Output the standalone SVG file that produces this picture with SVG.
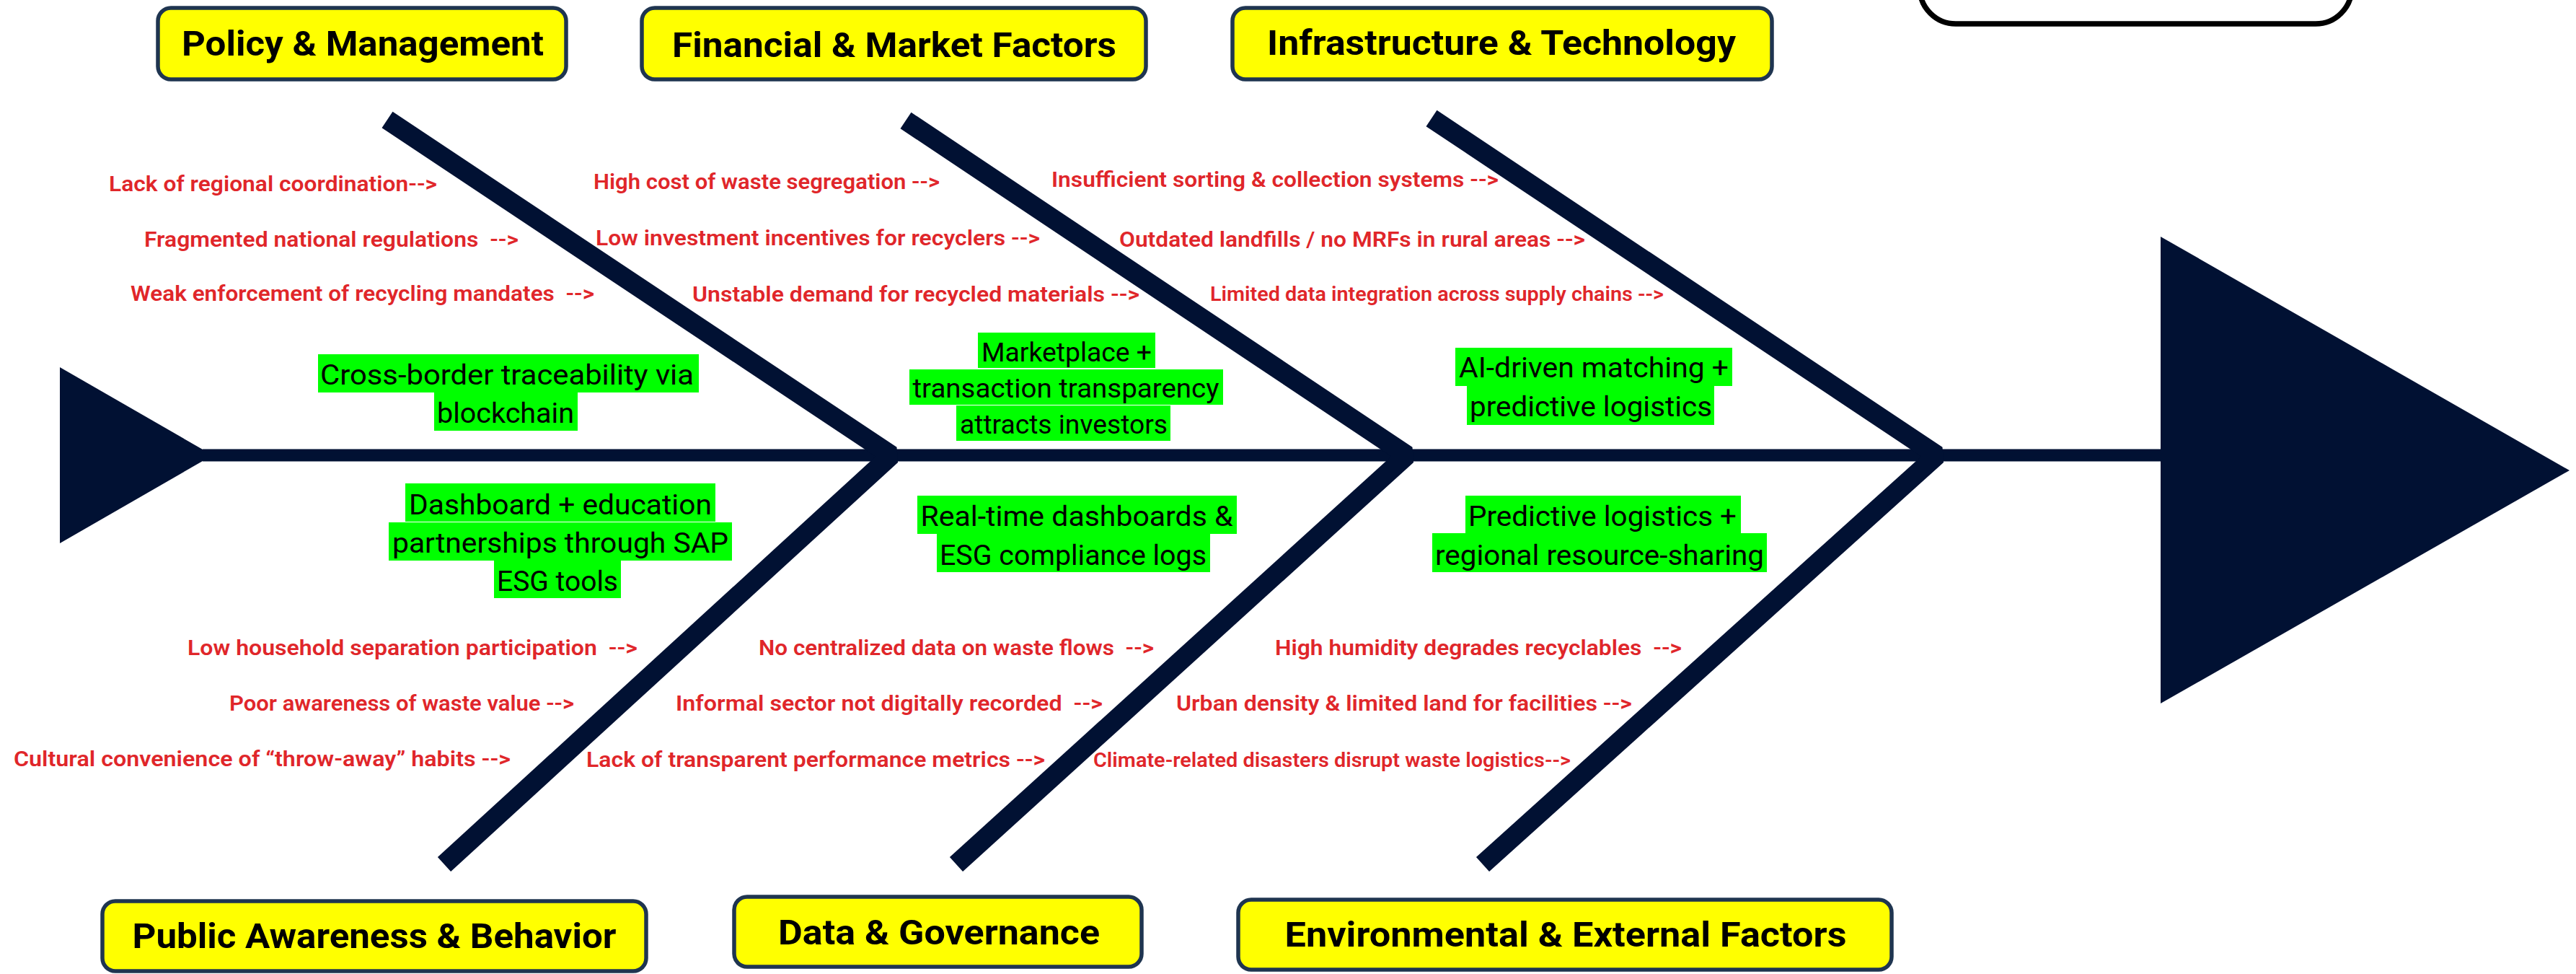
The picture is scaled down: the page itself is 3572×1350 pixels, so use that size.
<svg xmlns="http://www.w3.org/2000/svg" width="3572" height="1350" viewBox="0 0 3572 1350">
<style>
.cat rect{fill:#ffff00;stroke:#1f3550;stroke-width:5.5}
.cat text{font-family:Roboto,"Liberation Sans",sans-serif;font-weight:700;font-size:48px;fill:#000;text-anchor:middle}
.cause{font-family:Roboto,"Liberation Sans",sans-serif;font-weight:600;font-size:29px;fill:#e0262a}
.sol rect{fill:#00ff00}
.sol text{font-family:Roboto,"Liberation Sans",sans-serif;font-weight:400;font-size:38px;fill:#000;text-anchor:middle}
.bone{fill:none;stroke:#011133;stroke-width:27;stroke-linejoin:bevel;stroke-linecap:butt}
.fish{fill:#011133}
</style>
<rect width="3572" height="1350" fill="#ffffff"/>

<g id="connectors">
  <polygon class="fish" points="83,509 295,631 83,753"/>
  <line x1="281" y1="631" x2="3000" y2="631" stroke="#011133" stroke-width="17"/>
  <polyline class="bone" points="537,166 1236,631 616,1198"/>
  <polyline class="bone" points="1256,167 1951,631 1326,1198"/>
  <polyline class="bone" points="1985,164 2686,631 2056,1198"/>
</g>

<g id="head">
  <polygon class="fish" points="2996,328 3563,652 2996,975"/>
</g>

<g id="result-box">
  <rect x="2662" y="-100" width="599" height="133" rx="50" ry="50" fill="#ffffff" stroke="#000000" stroke-width="7.5"/>
</g>

<g id="cat-policy" class="cat">
  <rect x="219" y="11" width="566" height="99" rx="18"/>
  <text x="503" y="77" textLength="502" lengthAdjust="spacingAndGlyphs">Policy &amp; Management</text>
</g>
<g id="cat-financial" class="cat">
  <rect x="890" y="11" width="699" height="99" rx="18"/>
  <text x="1240" y="79" textLength="616" lengthAdjust="spacingAndGlyphs">Financial &amp; Market Factors</text>
</g>
<g id="cat-infra" class="cat">
  <rect x="1709" y="11" width="748" height="99" rx="18"/>
  <text x="2082" y="76" textLength="650" lengthAdjust="spacingAndGlyphs">Infrastructure &amp; Technology</text>
</g>
<g id="cat-public" class="cat">
  <rect x="142" y="1249" width="754" height="97" rx="18"/>
  <text x="519" y="1314" textLength="671" lengthAdjust="spacingAndGlyphs">Public Awareness &amp; Behavior</text>
</g>
<g id="cat-data" class="cat">
  <rect x="1018" y="1243" width="565" height="97" rx="18"/>
  <text x="1302" y="1309" textLength="446" lengthAdjust="spacingAndGlyphs">Data &amp; Governance</text>
</g>
<g id="cat-env" class="cat">
  <rect x="1717" y="1247" width="906" height="97" rx="18"/>
  <text x="2171" y="1312" textLength="779" lengthAdjust="spacingAndGlyphs">Environmental &amp; External Factors</text>
</g>

<g id="causes-policy" class="cause">
  <text x="151" y="265" textLength="455" lengthAdjust="spacingAndGlyphs">Lack of regional coordination--&gt;</text>
  <text x="200" y="342" textLength="519" lengthAdjust="spacingAndGlyphs" xml:space="preserve">Fragmented national regulations  --&gt;</text>
  <text x="181" y="417" textLength="643" lengthAdjust="spacingAndGlyphs" xml:space="preserve">Weak enforcement of recycling mandates  --&gt;</text>
</g>
<g id="causes-financial" class="cause">
  <text x="823" y="262" textLength="480" lengthAdjust="spacingAndGlyphs">High cost of waste segregation --&gt;</text>
  <text x="826" y="340" textLength="616" lengthAdjust="spacingAndGlyphs">Low investment incentives for recyclers --&gt;</text>
  <text x="960" y="418" textLength="620" lengthAdjust="spacingAndGlyphs">Unstable demand for recycled materials --&gt;</text>
</g>
<g id="causes-infra" class="cause">
  <text x="1458" y="259" textLength="620" lengthAdjust="spacingAndGlyphs">Insufficient sorting &amp; collection systems --&gt;</text>
  <text x="1552" y="342" textLength="646" lengthAdjust="spacingAndGlyphs">Outdated landfills / no MRFs in rural areas --&gt;</text>
  <text x="1678" y="417" textLength="629" lengthAdjust="spacingAndGlyphs" style="font-size:27px">Limited data integration across supply chains --&gt;</text>
</g>
<g id="causes-public" class="cause">
  <text x="260" y="908" textLength="624" lengthAdjust="spacingAndGlyphs" xml:space="preserve">Low household separation participation  --&gt;</text>
  <text x="318" y="985" textLength="478" lengthAdjust="spacingAndGlyphs">Poor awareness of waste value --&gt;</text>
  <text x="19" y="1062" textLength="689" lengthAdjust="spacingAndGlyphs">Cultural convenience of “throw-away” habits --&gt;</text>
</g>
<g id="causes-data" class="cause">
  <text x="1052" y="908" textLength="548" lengthAdjust="spacingAndGlyphs" xml:space="preserve">No centralized data on waste flows  --&gt;</text>
  <text x="937" y="985" textLength="592" lengthAdjust="spacingAndGlyphs" xml:space="preserve">Informal sector not digitally recorded  --&gt;</text>
  <text x="813" y="1063" textLength="636" lengthAdjust="spacingAndGlyphs">Lack of transparent performance metrics --&gt;</text>
</g>
<g id="causes-env" class="cause">
  <text x="1768" y="908" textLength="564" lengthAdjust="spacingAndGlyphs" xml:space="preserve">High humidity degrades recyclables  --&gt;</text>
  <text x="1631" y="985" textLength="632" lengthAdjust="spacingAndGlyphs">Urban density &amp; limited land for facilities --&gt;</text>
  <text x="1516" y="1063" textLength="662" lengthAdjust="spacingAndGlyphs" style="font-size:27px">Climate-related disasters disrupt waste logistics--&gt;</text>
</g>

<g id="sol-policy" class="sol">
  <rect x="441" y="491" width="528" height="53"/>
  <rect x="602" y="543" width="199" height="54"/>
  <text x="703" y="533" textLength="518" lengthAdjust="spacingAndGlyphs">Cross-border traceability via</text>
  <text x="701" y="586" textLength="190" lengthAdjust="spacingAndGlyphs">blockchain</text>
</g>
<g id="sol-financial" class="sol">
  <rect x="1356" y="461" width="246" height="49"/>
  <rect x="1261" y="512" width="435" height="49"/>
  <rect x="1326" y="562" width="297" height="49"/>
  <text x="1479" y="501" textLength="236" lengthAdjust="spacingAndGlyphs" style="font-size:36px">Marketplace +</text>
  <text x="1478" y="551" textLength="425" lengthAdjust="spacingAndGlyphs" style="font-size:36px">transaction transparency</text>
  <text x="1475" y="601" textLength="288" lengthAdjust="spacingAndGlyphs" style="font-size:36px">attracts investors</text>
</g>
<g id="sol-infra" class="sol">
  <rect x="2018" y="482" width="384" height="53"/>
  <rect x="2034" y="535" width="343" height="54"/>
  <text x="2210" y="523" textLength="374" lengthAdjust="spacingAndGlyphs">AI-driven matching +</text>
  <text x="2206" y="577" textLength="336" lengthAdjust="spacingAndGlyphs">predictive logistics</text>
</g>
<g id="sol-public" class="sol">
  <rect x="562" y="670" width="430" height="53"/>
  <rect x="539" y="724" width="476" height="53"/>
  <rect x="685" y="776" width="176" height="53"/>
  <text x="777" y="713" textLength="420" lengthAdjust="spacingAndGlyphs">Dashboard + education</text>
  <text x="777" y="766" textLength="466" lengthAdjust="spacingAndGlyphs">partnerships through SAP</text>
  <text x="773" y="819" textLength="168" lengthAdjust="spacingAndGlyphs">ESG tools</text>
</g>
<g id="sol-data" class="sol">
  <rect x="1272" y="687" width="443" height="53"/>
  <rect x="1299" y="739" width="379" height="54"/>
  <text x="1493" y="729" textLength="433" lengthAdjust="spacingAndGlyphs">Real-time dashboards &amp;</text>
  <text x="1488" y="783" textLength="370" lengthAdjust="spacingAndGlyphs">ESG compliance logs</text>
</g>
<g id="sol-env" class="sol">
  <rect x="2032" y="687" width="382" height="53"/>
  <rect x="1986" y="739" width="464" height="54"/>
  <text x="2222" y="729" textLength="372" lengthAdjust="spacingAndGlyphs">Predictive logistics +</text>
  <text x="2218" y="783" textLength="456" lengthAdjust="spacingAndGlyphs">regional resource-sharing</text>
</g>
</svg>
